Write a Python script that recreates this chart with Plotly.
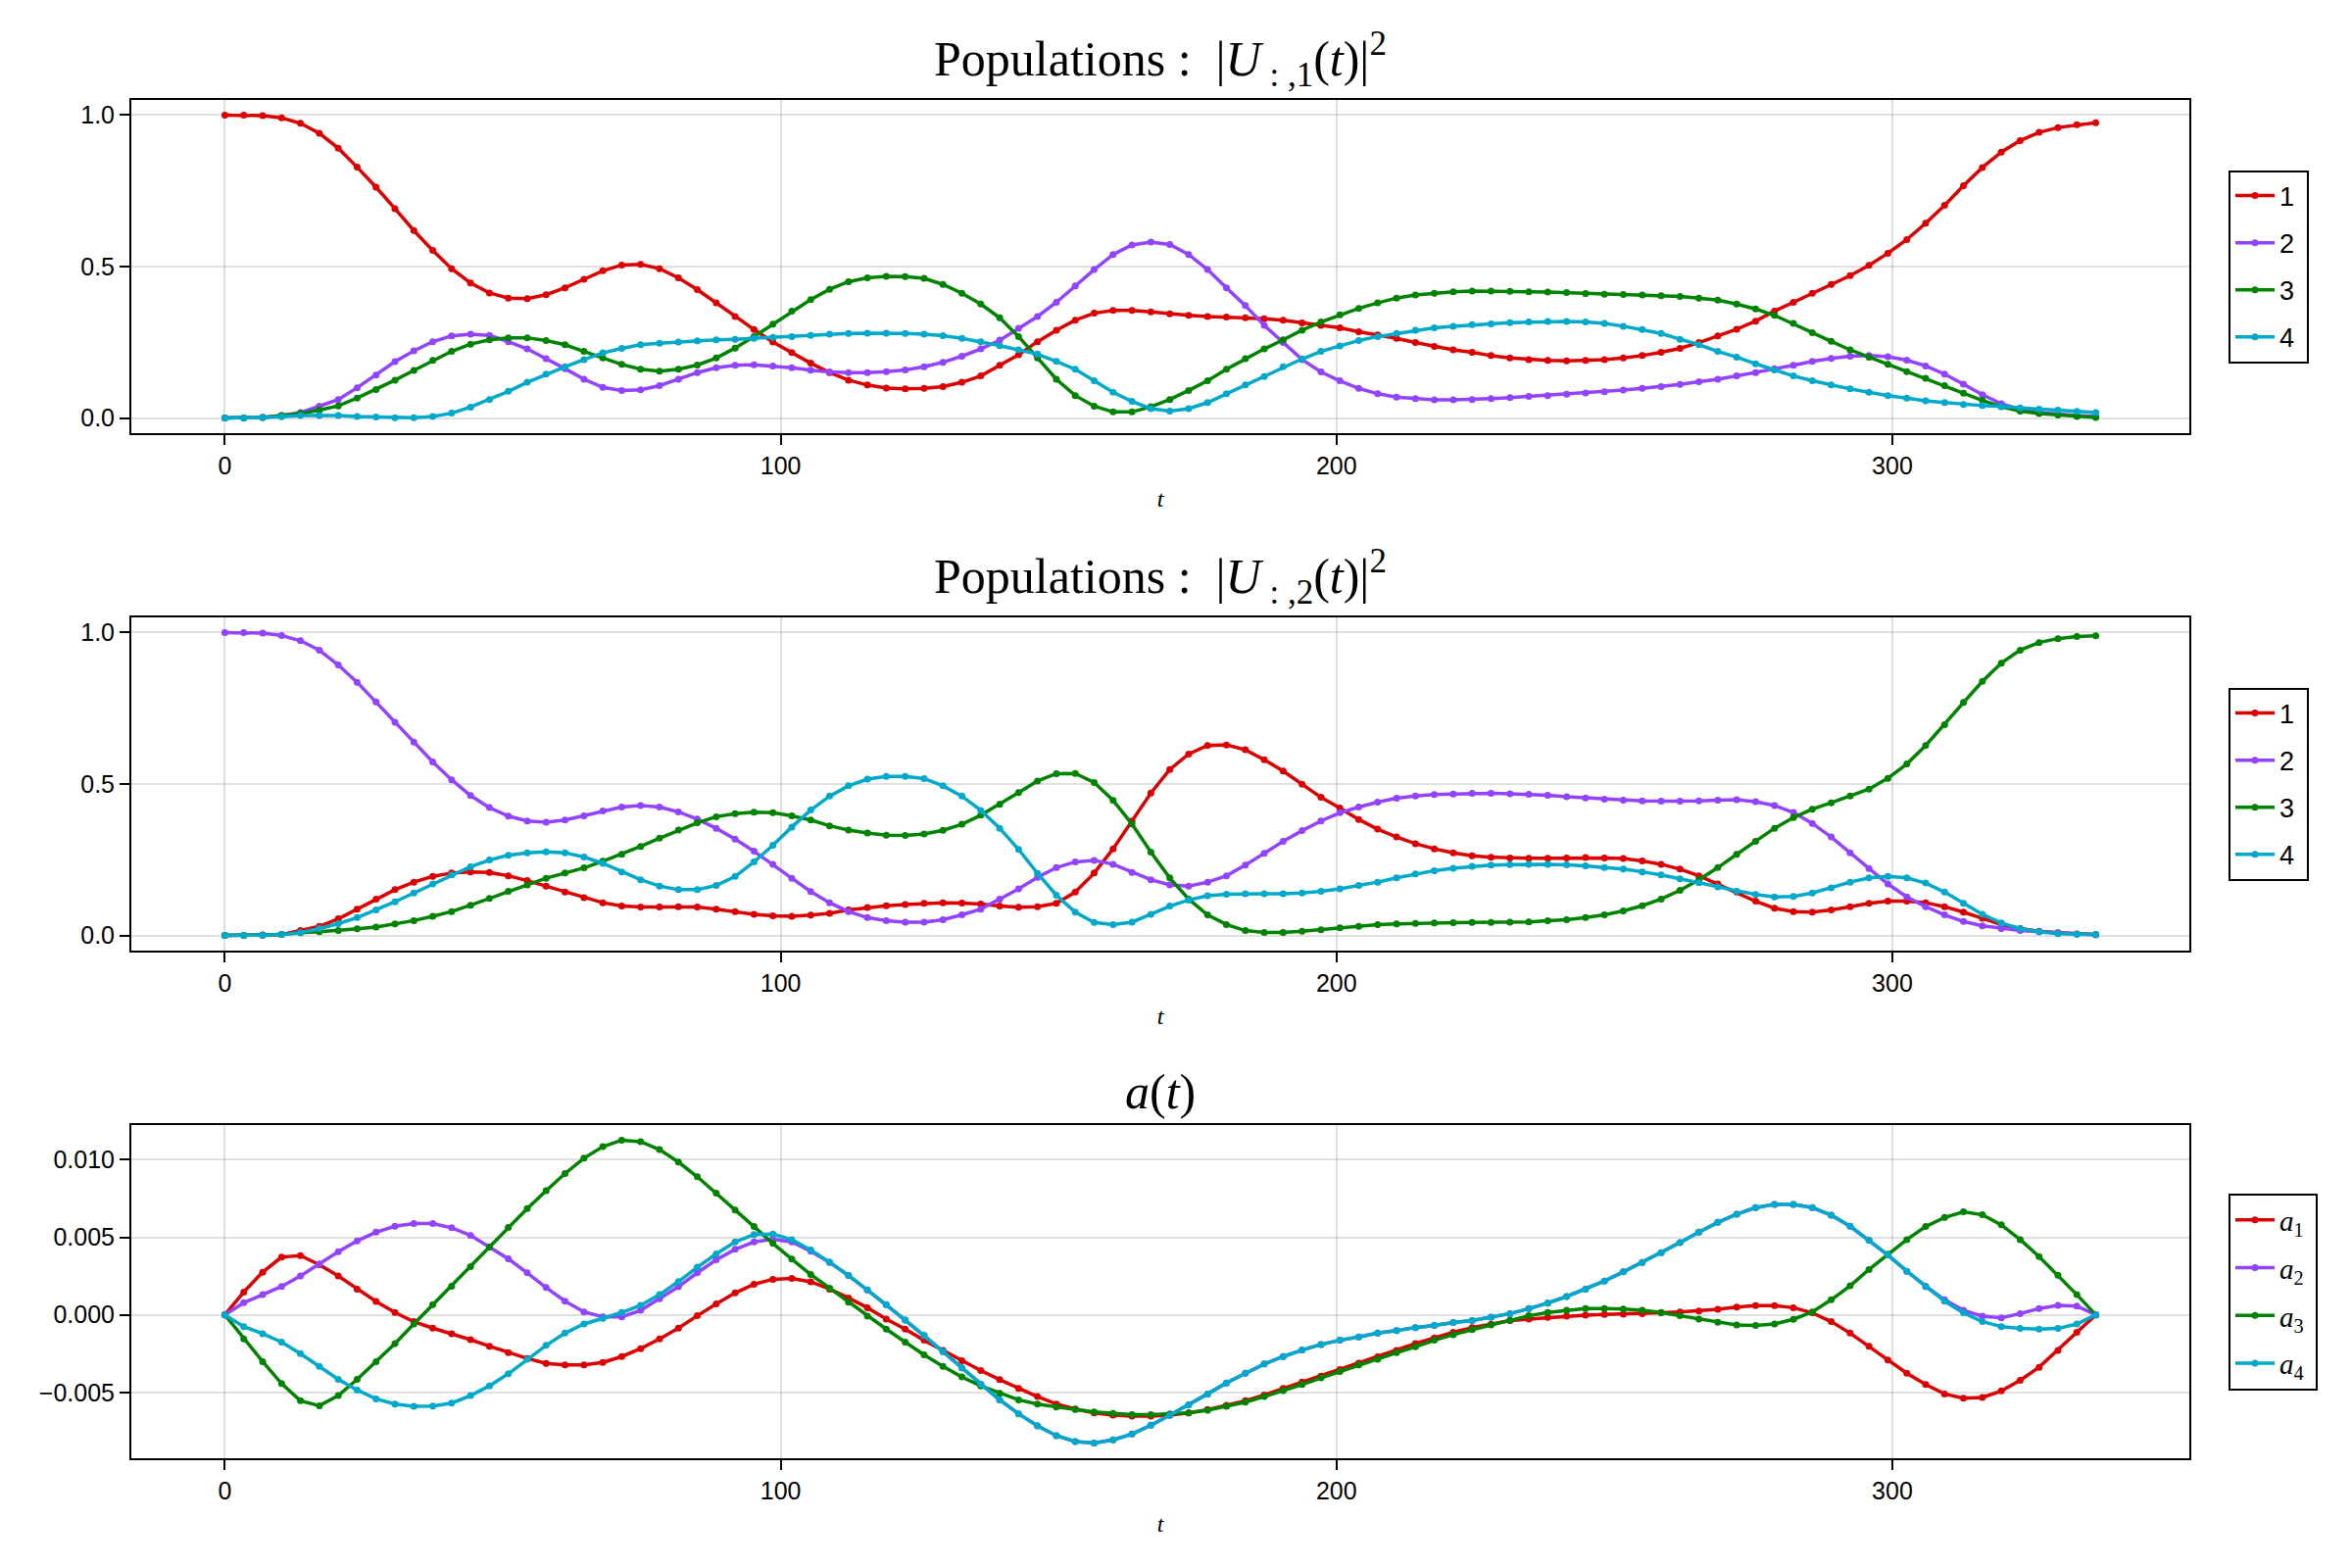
import plotly.graph_objects as go

# time grid: 100 samples, step 3.4
T_STEP = 3.4

# ---------- Populations |U_{:,1}(t)|^2 ----------
pop1_s1 = [1.0, 1.0, 0.998, 0.991, 0.973, 0.94, 0.891, 0.828, 0.762, 0.691, 0.619, 0.553, 0.493, 0.446, 0.413, 0.396,
           0.394, 0.407, 0.430, 0.458, 0.486, 0.505, 0.507, 0.493, 0.463, 0.424, 0.380, 0.335, 0.292, 0.251, 0.216, 0.181,
           0.150, 0.125, 0.109, 0.099, 0.096, 0.098, 0.104, 0.118, 0.139, 0.174, 0.209, 0.252, 0.290, 0.323, 0.346, 0.355,
           0.355, 0.350, 0.344, 0.339, 0.335, 0.333, 0.331, 0.328, 0.323, 0.314, 0.306, 0.298, 0.285, 0.274, 0.263, 0.249,
           0.236, 0.225, 0.217, 0.206, 0.198, 0.193, 0.190, 0.189, 0.190, 0.193, 0.198, 0.206, 0.217, 0.230, 0.249, 0.271,
           0.293, 0.320, 0.353, 0.382, 0.412, 0.441, 0.470, 0.504, 0.544, 0.589, 0.643, 0.702, 0.767, 0.827, 0.878, 0.916,
           0.943, 0.959, 0.968, 0.975]
pop1_s2 = [0.0, 0.0, 0.002, 0.008, 0.018, 0.039, 0.061, 0.100, 0.142, 0.186, 0.222, 0.252, 0.271, 0.277, 0.273, 0.252,
           0.228, 0.196, 0.163, 0.128, 0.101, 0.091, 0.093, 0.107, 0.128, 0.150, 0.166, 0.174, 0.176, 0.172, 0.166, 0.158,
           0.152, 0.150, 0.150, 0.153, 0.159, 0.169, 0.184, 0.204, 0.228, 0.257, 0.296, 0.335, 0.382, 0.436, 0.490, 0.540,
           0.571, 0.581, 0.573, 0.540, 0.490, 0.430, 0.371, 0.306, 0.249, 0.193, 0.152, 0.123, 0.098, 0.080, 0.069, 0.064,
           0.060, 0.060, 0.061, 0.064, 0.067, 0.071, 0.074, 0.079, 0.083, 0.087, 0.092, 0.098, 0.104, 0.111, 0.120, 0.128,
           0.139, 0.150, 0.163, 0.174, 0.187, 0.197, 0.204, 0.206, 0.202, 0.191, 0.172, 0.145, 0.112, 0.077, 0.047, 0.029,
           0.018, 0.012, 0.008, 0.005]
pop1_s3 = [0.0, 0.0, 0.002, 0.008, 0.015, 0.026, 0.040, 0.066, 0.094, 0.125, 0.157, 0.190, 0.220, 0.244, 0.258, 0.265,
           0.265, 0.256, 0.242, 0.220, 0.198, 0.177, 0.161, 0.155, 0.161, 0.175, 0.198, 0.231, 0.269, 0.310, 0.353, 0.391,
           0.425, 0.450, 0.463, 0.468, 0.467, 0.461, 0.441, 0.412, 0.376, 0.331, 0.269, 0.198, 0.128, 0.074, 0.039, 0.020,
           0.020, 0.037, 0.061, 0.091, 0.123, 0.161, 0.196, 0.228, 0.258, 0.290, 0.317, 0.341, 0.362, 0.380, 0.396, 0.406,
           0.412, 0.417, 0.419, 0.419, 0.418, 0.417, 0.416, 0.414, 0.411, 0.409, 0.408, 0.406, 0.404, 0.401, 0.396, 0.389,
           0.376, 0.360, 0.339, 0.312, 0.282, 0.253, 0.225, 0.201, 0.177, 0.153, 0.131, 0.107, 0.082, 0.058, 0.037, 0.023,
           0.015, 0.010, 0.005, 0.002]
pop1_s4 = [0.0, 0.0, 0.002, 0.004, 0.008, 0.008, 0.008, 0.005, 0.003, 0.001, 0.001, 0.005, 0.016, 0.036, 0.061, 0.088,
           0.118, 0.145, 0.169, 0.193, 0.215, 0.230, 0.242, 0.247, 0.251, 0.255, 0.258, 0.260, 0.263, 0.266, 0.269, 0.273,
           0.277, 0.279, 0.280, 0.280, 0.279, 0.277, 0.272, 0.263, 0.252, 0.239, 0.225, 0.211, 0.187, 0.161, 0.123, 0.085,
           0.055, 0.031, 0.023, 0.031, 0.051, 0.080, 0.109, 0.137, 0.169, 0.195, 0.220, 0.238, 0.256, 0.269, 0.279, 0.290,
           0.298, 0.303, 0.308, 0.311, 0.315, 0.317, 0.319, 0.319, 0.317, 0.312, 0.303, 0.292, 0.279, 0.260, 0.242, 0.220,
           0.201, 0.179, 0.159, 0.139, 0.123, 0.109, 0.096, 0.085, 0.074, 0.066, 0.057, 0.051, 0.045, 0.041, 0.038, 0.033,
           0.029, 0.026, 0.022, 0.018]

# ---------- Populations |U_{:,2}(t)|^2 ----------
pop2_s1 = [0.0, 0.0, 0.002, 0.003, 0.016, 0.030, 0.055, 0.087, 0.120, 0.151, 0.176, 0.195, 0.206, 0.210, 0.208, 0.197,
           0.181, 0.163, 0.143, 0.125, 0.108, 0.097, 0.094, 0.094, 0.095, 0.094, 0.087, 0.079, 0.070, 0.065, 0.063, 0.067,
           0.073, 0.084, 0.092, 0.098, 0.102, 0.106, 0.108, 0.107, 0.104, 0.097, 0.093, 0.095, 0.106, 0.143, 0.206, 0.286,
           0.378, 0.470, 0.548, 0.599, 0.627, 0.629, 0.613, 0.580, 0.543, 0.499, 0.456, 0.421, 0.383, 0.351, 0.325, 0.303,
           0.286, 0.273, 0.263, 0.258, 0.256, 0.255, 0.255, 0.256, 0.257, 0.256, 0.254, 0.246, 0.235, 0.219, 0.197, 0.170,
           0.143, 0.113, 0.090, 0.079, 0.077, 0.084, 0.095, 0.106, 0.113, 0.113, 0.108, 0.095, 0.077, 0.057, 0.036, 0.023,
           0.014, 0.009, 0.005, 0.003]
pop2_s2 = [1.0, 1.0, 0.998, 0.990, 0.973, 0.942, 0.893, 0.836, 0.771, 0.704, 0.638, 0.573, 0.514, 0.462, 0.422, 0.394,
           0.378, 0.374, 0.381, 0.395, 0.411, 0.424, 0.429, 0.424, 0.408, 0.384, 0.354, 0.318, 0.278, 0.235, 0.189, 0.145,
           0.108, 0.079, 0.059, 0.049, 0.044, 0.044, 0.052, 0.068, 0.087, 0.120, 0.154, 0.192, 0.224, 0.243, 0.248, 0.235,
           0.208, 0.184, 0.167, 0.163, 0.176, 0.197, 0.232, 0.271, 0.311, 0.346, 0.378, 0.405, 0.424, 0.440, 0.453, 0.460,
           0.465, 0.467, 0.469, 0.469, 0.468, 0.466, 0.463, 0.458, 0.454, 0.450, 0.447, 0.444, 0.443, 0.443, 0.444, 0.447,
           0.448, 0.442, 0.429, 0.406, 0.370, 0.325, 0.273, 0.221, 0.170, 0.127, 0.095, 0.068, 0.046, 0.032, 0.023, 0.016,
           0.012, 0.008, 0.004, 0.002]
pop2_s3 = [0.0, 0.0, 0.001, 0.003, 0.009, 0.012, 0.016, 0.022, 0.028, 0.038, 0.049, 0.063, 0.079, 0.100, 0.122, 0.146,
           0.167, 0.189, 0.206, 0.223, 0.245, 0.268, 0.294, 0.321, 0.348, 0.372, 0.392, 0.402, 0.407, 0.405, 0.395, 0.381,
           0.362, 0.348, 0.338, 0.331, 0.330, 0.335, 0.347, 0.367, 0.397, 0.433, 0.472, 0.510, 0.534, 0.535, 0.505, 0.446,
           0.368, 0.275, 0.190, 0.120, 0.068, 0.036, 0.016, 0.010, 0.010, 0.014, 0.019, 0.025, 0.030, 0.036, 0.038, 0.040,
           0.041, 0.042, 0.043, 0.043, 0.044, 0.045, 0.049, 0.052, 0.059, 0.068, 0.081, 0.098, 0.120, 0.149, 0.184, 0.224,
           0.268, 0.311, 0.354, 0.389, 0.417, 0.438, 0.460, 0.483, 0.519, 0.566, 0.627, 0.696, 0.769, 0.839, 0.899, 0.942,
           0.967, 0.980, 0.987, 0.989]
pop2_s4 = [0.0, 0.0, 0.001, 0.003, 0.009, 0.023, 0.039, 0.059, 0.084, 0.111, 0.140, 0.170, 0.200, 0.227, 0.249, 0.265,
           0.273, 0.276, 0.273, 0.259, 0.238, 0.210, 0.184, 0.163, 0.151, 0.151, 0.165, 0.195, 0.243, 0.298, 0.358, 0.414,
           0.460, 0.494, 0.516, 0.525, 0.525, 0.518, 0.494, 0.460, 0.413, 0.354, 0.284, 0.205, 0.133, 0.077, 0.043, 0.036,
           0.044, 0.070, 0.097, 0.117, 0.131, 0.136, 0.138, 0.138, 0.138, 0.140, 0.146, 0.154, 0.165, 0.176, 0.190, 0.203,
           0.214, 0.222, 0.228, 0.232, 0.234, 0.235, 0.235, 0.233, 0.230, 0.224, 0.219, 0.210, 0.200, 0.187, 0.174, 0.160,
           0.146, 0.135, 0.127, 0.129, 0.140, 0.157, 0.176, 0.190, 0.195, 0.190, 0.173, 0.143, 0.106, 0.070, 0.041, 0.023,
           0.012, 0.006, 0.004, 0.003]

# ---------- controls a(t), in units of 1e-3 ----------
a1_milli = [0.0, 1.47, 2.75, 3.72, 3.82, 3.23, 2.50, 1.66, 0.86, 0.15, -0.44, -0.86, -1.22, -1.60, -2.02, -2.44,
            -2.81, -3.13, -3.23, -3.23, -3.07, -2.69, -2.18, -1.55, -0.86, -0.06, 0.71, 1.41, 1.97, 2.29, 2.35, 2.13,
            1.66, 1.09, 0.46, -0.27, -0.92, -1.64, -2.29, -2.96, -3.59, -4.18, -4.75, -5.27, -5.75, -6.07, -6.32, -6.47,
            -6.53, -6.53, -6.47, -6.32, -6.11, -5.84, -5.54, -5.17, -4.75, -4.33, -3.95, -3.53, -3.11, -2.71, -2.29, -1.85,
            -1.49, -1.13, -0.83, -0.60, -0.37, -0.27, -0.17, -0.08, -0.02, 0.02, 0.04, 0.08, 0.13, 0.19, 0.25, 0.36,
            0.50, 0.59, 0.59, 0.46, 0.13, -0.44, -1.18, -2.02, -2.92, -3.76, -4.49, -5.10, -5.38, -5.33, -4.91, -4.22,
            -3.38, -2.29, -1.13, 0.0]
a2_milli = [0.0, 0.78, 1.30, 1.83, 2.50, 3.28, 4.07, 4.77, 5.33, 5.71, 5.88, 5.88, 5.61, 5.12, 4.39, 3.61,
            2.71, 1.76, 0.88, 0.19, -0.13, -0.13, 0.29, 1.03, 1.81, 2.71, 3.55, 4.22, 4.70, 4.87, 4.70, 4.10,
            3.38, 2.53, 1.60, 0.65, -0.34, -1.34, -2.37, -3.42, -4.47, -5.48, -6.38, -7.16, -7.79, -8.17, -8.27, -8.06,
            -7.69, -7.12, -6.47, -5.80, -5.10, -4.39, -3.76, -3.17, -2.69, -2.27, -1.91, -1.64, -1.43, -1.18, -1.01, -0.82,
            -0.69, -0.50, -0.37, -0.15, 0.08, 0.40, 0.76, 1.18, 1.66, 2.18, 2.77, 3.38, 4.01, 4.66, 5.33, 5.96,
            6.49, 6.91, 7.12, 7.12, 6.91, 6.43, 5.71, 4.81, 3.86, 2.81, 1.85, 0.97, 0.29, -0.08, -0.19, 0.08,
            0.40, 0.61, 0.57, 0.0]
a3_milli = [0.0, -1.55, -3.02, -4.43, -5.54, -5.86, -5.21, -4.16, -3.02, -1.85, -0.59, 0.65, 1.85, 3.11, 4.37, 5.63,
            6.85, 8.00, 9.11, 10.10, 10.84, 11.26, 11.17, 10.65, 9.85, 8.90, 7.85, 6.76, 5.69, 4.60, 3.60, 2.60,
            1.72, 0.82, -0.08, -0.92, -1.76, -2.58, -3.32, -4.01, -4.58, -5.06, -5.48, -5.75, -5.94, -6.11, -6.26, -6.36,
            -6.43, -6.43, -6.38, -6.32, -6.15, -5.90, -5.63, -5.27, -4.89, -4.49, -4.07, -3.65, -3.23, -2.86, -2.44, -2.06,
            -1.64, -1.28, -0.95, -0.65, -0.36, -0.06, 0.15, 0.29, 0.40, 0.40, 0.38, 0.29, 0.15, -0.06, -0.27, -0.48,
            -0.65, -0.69, -0.59, -0.29, 0.19, 0.97, 1.87, 2.92, 3.91, 4.85, 5.69, 6.28, 6.64, 6.45, 5.80, 4.85,
            3.76, 2.56, 1.30, 0.0]
a4_milli = [0.0, -0.76, -1.22, -1.76, -2.50, -3.32, -4.16, -4.85, -5.42, -5.75, -5.90, -5.88, -5.69, -5.21, -4.58, -3.80,
            -2.86, -1.97, -1.18, -0.59, -0.23, 0.15, 0.61, 1.30, 2.14, 3.07, 3.93, 4.70, 5.17, 5.21, 4.85, 4.18,
            3.40, 2.54, 1.60, 0.65, -0.34, -1.34, -2.37, -3.42, -4.47, -5.48, -6.38, -7.16, -7.79, -8.17, -8.27, -8.06,
            -7.69, -7.12, -6.47, -5.80, -5.10, -4.39, -3.76, -3.17, -2.69, -2.27, -1.91, -1.64, -1.43, -1.18, -1.01, -0.82,
            -0.69, -0.50, -0.37, -0.15, 0.08, 0.40, 0.76, 1.18, 1.66, 2.18, 2.77, 3.38, 4.01, 4.66, 5.33, 5.96,
            6.49, 6.91, 7.12, 7.12, 6.91, 6.43, 5.71, 4.81, 3.86, 2.81, 1.81, 0.88, 0.13, -0.44, -0.76, -0.88,
            -0.92, -0.88, -0.59, 0.0]

titles = ["Populations :  |<i>U</i><sub> : ,1</sub>(<i>t</i>)|<sup>2</sup>",
          "Populations :  |<i>U</i><sub> : ,2</sub>(<i>t</i>)|<sup>2</sup>",
          "<i>a</i>(<i>t</i>)"]
legend_names_pop = ["1", "2", "3", "4"]
legend_names_ctrl = ["<i>a</i><sub>1</sub>", "<i>a</i><sub>2</sub>", "<i>a</i><sub>3</sub>", "<i>a</i><sub>4</sub>"]
x_ticks = [0, 100, 200, 300]

colors = ["#dc0000", "#9143ff", "#008300", "#00a9c9"]

SANS = "Liberation Sans, Arial, sans-serif"
SERIF = "Liberation Serif, DejaVu Serif, serif"

ctrl = [[v * 1e-3 for v in s] for s in (a1_milli, a2_milli, a3_milli, a4_milli)]
panels = [
    ([pop1_s1, pop1_s2, pop1_s3, pop1_s4], legend_names_pop),
    ([pop2_s1, pop2_s2, pop2_s3, pop2_s4], legend_names_pop),
    (ctrl, legend_names_ctrl),
]

# layout geometry (pixels)
W, H = 2400, 1600
ML, MR, MT, MB = 134, 166, 102, 112
plot_h = H - MT - MB
# panel pixel boxes (top, bottom)
boxes = [(102, 442), (630, 970), (1148, 1488)]


def to_paper(ypix):
    return (H - MB - ypix) / plot_h


fig = go.Figure()
t_end = None
for p, (series, names) in enumerate(panels):
    ax = "" if p == 0 else str(p + 1)
    leg = "legend" if p == 0 else f"legend{p + 1}"
    for k, (ys, nm) in enumerate(zip(series, names)):
        ts = [i * T_STEP for i in range(len(ys))]
        t_end = ts[-1]
        fig.add_trace(go.Scatter(
            x=ts, y=ys, mode="lines+markers", name=nm + "&nbsp;",
            line=dict(color=colors[k], width=3.5),
            marker=dict(color=colors[k], size=7),
            xaxis="x" + ax, yaxis="y" + ax, legend=leg, legendgroup=f"g{p}{k}",
        ))

pad = 0.05 * t_end
xr = [-pad, t_end + pad]

common_axis = dict(
    showline=True, linecolor="black", linewidth=2, mirror=True,
    ticks="outside", ticklen=10, tickwidth=2, tickcolor="black",
    showgrid=True, gridcolor="rgba(0,0,0,0.12)", gridwidth=1.5,
    zeroline=False, tickfont=dict(family=SANS, size=25, color="black"),
)

layout = dict(
    width=W, height=H, margin=dict(l=ML, r=MR, t=MT, b=MB),
    paper_bgcolor="white", plot_bgcolor="white",
    annotations=[],
)

for p in range(3):
    ax = "" if p == 0 else str(p + 1)
    top, bot = boxes[p]
    dom = [to_paper(bot), to_paper(top)]
    ys_all = [v for s in panels[p][0] for v in s]
    lo, hi = min(ys_all), max(ys_all)
    span = hi - lo
    yr = [lo - 0.05 * span, hi + 0.05 * span]
    layout["xaxis" + ax] = dict(
        common_axis, domain=[0, 1], range=xr, tickvals=x_ticks,
        anchor="y" + ax,
        title=dict(text="<i>t</i>", font=dict(family=SERIF, size=24, color="black"), standoff=12),
    )
    layout["yaxis" + ax] = dict(
        common_axis, domain=dom, range=yr, anchor="x" + ax,
        tickformat=".1f" if p < 2 else ".3f",
        dtick=0.5 if p < 2 else 0.005,
    )
    leg = "legend" if p == 0 else f"legend{p + 1}"
    layout[leg] = dict(
        x=1 + 40 / (W - ML - MR), xanchor="left",
        y=(dom[0] + dom[1]) / 2, yanchor="middle",
        bordercolor="black", borderwidth=2, bgcolor="white",
        font=dict(family=SANS if p < 2 else SERIF, size=27 if p < 2 else 29, color="black"),
        tracegroupgap=10 if p < 2 else 8, itemwidth=40,
    )
    layout["annotations"].append(dict(
        text=titles[p], xref="paper", yref="paper", x=0.5, y=dom[1],
        xanchor="center", yanchor="bottom", yshift=4, showarrow=False,
        font=dict(family=SERIF, size=50, color="black"),
    ))

fig.update_layout(**layout)

fig.write_html("out.html", config={"displayModeBar": False},
               post_script="document.body.style.margin='0px';")
